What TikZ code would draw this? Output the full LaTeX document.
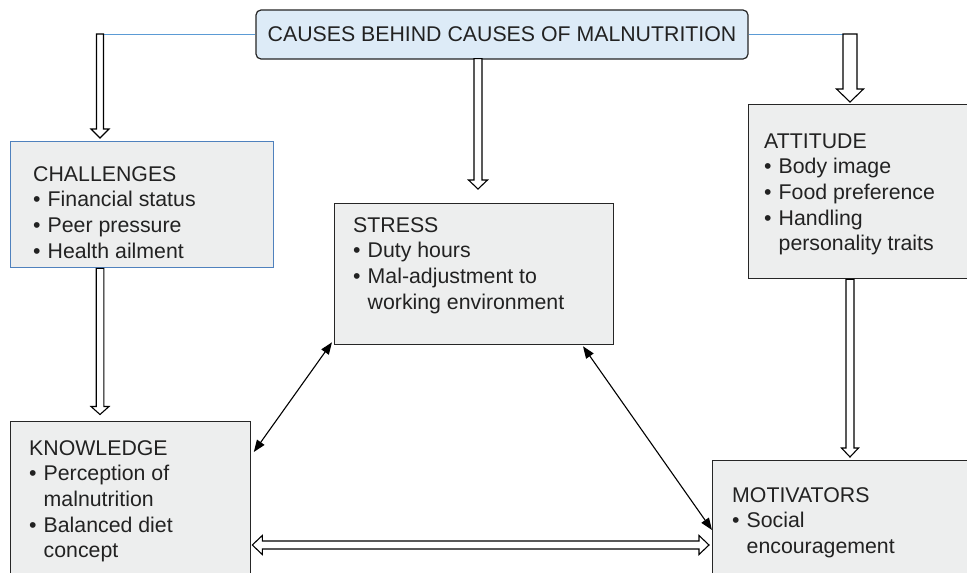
\documentclass[tikz,border=0pt]{standalone}
\usepackage{fontspec}
\setmainfont{Liberation Sans}
\usetikzlibrary{calc,arrows.meta}
\definecolor{boxfill}{HTML}{EDEEEE}
\definecolor{topfill}{HTML}{DDEBF7}
\definecolor{boxline}{HTML}{262626}
\definecolor{challine}{HTML}{4F81BD}
\definecolor{linkblue}{HTML}{5B9BD5}
\definecolor{txt}{HTML}{222222}
\newcommand\bul{\makebox[14.5pt][l]{\textbullet}}
\newcommand\ind{\hspace*{14.5pt}}
\newcommand\hdown[5]{%
  \draw[hollow] let \p1=(#1), \p2=(#2) in
   (\x1-#3pt,\y1) -- (\x1-#3pt,\y2+#5pt) -- (\x1-#4pt,\y2+#5pt) -- (\x1,\y2)
   -- (\x1+#4pt,\y2+#5pt) -- (\x1+#3pt,\y2+#5pt) -- (\x1+#3pt,\y1) -- cycle;}
\newcommand\hboth[5]{%
  \draw[hollow] let \p1=(#1), \p2=(#2) in
   (\x1,\y1) -- (\x1+#5pt,\y1+#4pt) -- (\x1+#5pt,\y1+#3pt) -- (\x2-#5pt,\y1+#3pt)
   -- (\x2-#5pt,\y1+#4pt) -- (\x2,\y1) -- (\x2-#5pt,\y1-#4pt) -- (\x2-#5pt,\y1-#3pt)
   -- (\x1+#5pt,\y1-#3pt) -- (\x1+#5pt,\y1-#4pt) -- cycle;}
\tikzset{
  boxnode/.style={draw=boxline, line width=1.3pt, fill=boxfill, rectangle, inner sep=0pt, anchor=north west},
  topbox/.style={draw=boxline, line width=1.2pt, fill=topfill, rounded corners=5pt, inner sep=0pt,
     minimum width=492pt, minimum height=49pt, text=txt, font=\fontsize{21.3}{25.6}\selectfont},
  boxtext/.style={inner sep=0pt, anchor=north west, align=left, text=txt, font=\fontsize{21.3}{25.6}\selectfont},
  hollow/.style={draw=black, line width=1.1pt, fill=white, line join=miter},
  bluelink/.style={draw=linkblue, line width=1.1pt},
  thinarrow/.style={draw=black, line width=1.1pt, {Triangle[length=12pt,width=9pt]}-{Triangle[length=12pt,width=9pt]}}
}
\begin{document}
\begin{tikzpicture}[x=1pt,y=-1pt]
\useasboundingbox (0,0) rectangle (967,573);
\clip (0,0) rectangle (967,573);
\fill[white] (0,0) rectangle (967,573);
% boxes
\node[topbox] (top) at (502,34.5) {CAUSES BEHIND CAUSES OF MALNUTRITION};
\node[boxnode, draw=challine, minimum width=263pt, minimum height=126pt] (chal) at (10,141) {};
\node[boxnode, minimum width=279pt, minimum height=141pt] (stress) at (334,203) {};
\node[boxnode, minimum width=240pt, minimum height=174pt] (att) at (748,104) {};
\node[boxnode, minimum width=240pt, minimum height=160pt] (know) at (10,421) {};
\node[boxnode, minimum width=280pt, minimum height=140pt] (mot) at (712,460) {};
% texts
\node[boxtext] (chalt) at (33,165) {\rule{0pt}{16pt}CHALLENGES\\ \bul Financial status\\ \bul Peer pressure\\ \bul Health ailment};
\node[boxtext] (stresst) at (353,216) {\rule{0pt}{16pt}STRESS\\ \bul Duty hours\\ \bul Mal-adjustment to\\ \ind working environment};
\node[boxtext] (attt) at (764,132) {\rule{0pt}{16pt}ATTITUDE\\ \bul Body image\\ \bul Food preference\\ \bul Handling\\ \ind personality traits};
\node[boxtext] (knowt) at (29,439) {\rule{0pt}{16pt}KNOWLEDGE\\ \bul Perception of\\ \ind malnutrition\\ \bul Balanced diet\\ \ind concept};
\node[boxtext] (mott) at (732,486) {\rule{0pt}{16pt}MOTIVATORS\\ \bul Social\\ \ind encouragement};
% connector points
\coordinate (cl) at (100,34.5);
\coordinate (cr) at (850,34.5);
\coordinate (cm) at ($(top.south)+(-24,-1)$);
% blue links
\draw[bluelink] (top.west) -- (cl);
\draw[bluelink] (top.east) -- (cr);
% hollow arrows
\hdown{$(cl)+(0,-0.5)$}{$(cl|-chal.north)+(0,-3)$}{3.5}{9}{9}
\hdown{cm}{$(cm|-stress.north)+(0,-14)$}{4}{9.5}{9}
\hdown{$(cr)+(0,-0.5)$}{$(cr|-att.north)+(0,-2)$}{7}{13.5}{13}
\hdown{cl|-chal.south}{$(cl|-know.north)+(0,-6.5)$}{3.8}{9}{8}
\hdown{cr|-att.south}{$(cr|-mot.north)+(0,-3)$}{4}{8.5}{9}
\hboth{$(know.north east)+(1,124)$}{$(mot.north west)+(-3,124)$}{4}{9.5}{10}
% thin double arrows
\draw[thinarrow] ($(know.north east)+(2.5,31)$) -- ($(stress.south west)+(-2,-3)$);
\draw[thinarrow] ($(stress.south west)+(249,1)$) -- ($(mot.north west)+(0,70)$);
\end{tikzpicture}
\end{document}
